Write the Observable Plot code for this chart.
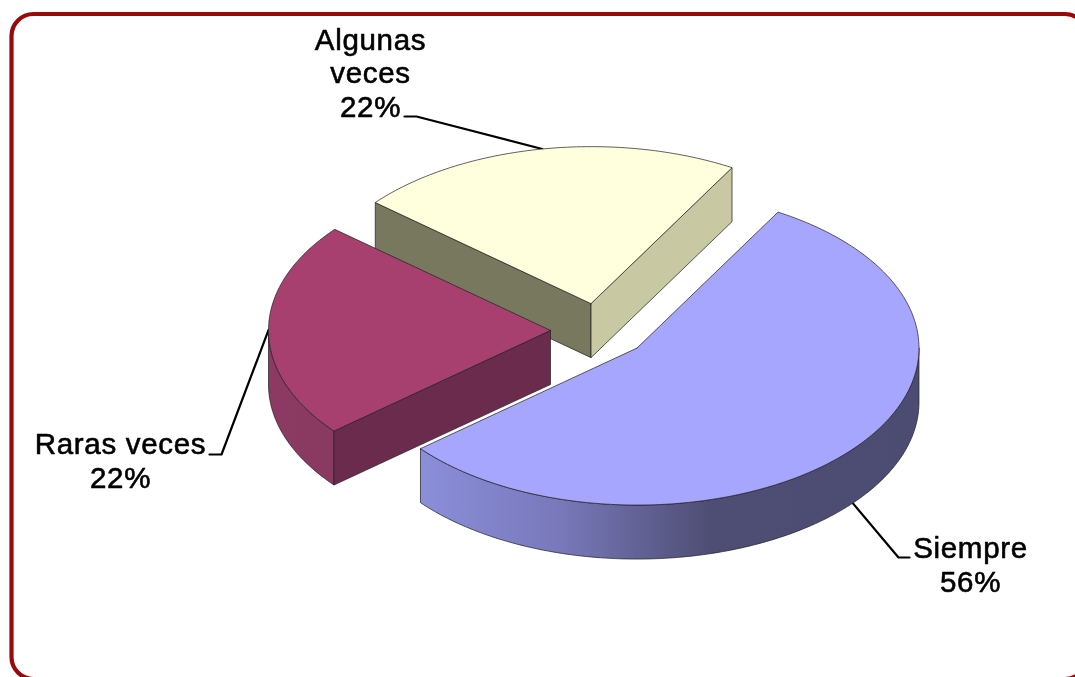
<!DOCTYPE html>
<html><head><meta charset="utf-8">
<style>html,body{margin:0;padding:0;background:#fff}svg{display:block;filter:blur(0.4px)}text{letter-spacing:.7px}</style>
<script src="https://cdn.jsdelivr.net/npm/d3@7"></script>
<script src="https://cdn.jsdelivr.net/npm/@observablehq/plot@0.6"></script>
</head><body><script>
const categories = ["Siempre", "Raras veces", "Algunas veces"];
const shares = [55.6, 22.2, 22.2];
const labels = ["Siempre\n56%", "Raras veces\n22%", "Algunas\nveces\n22%"];

// drawing layout of the tilted pie
const cx = 599, cy = 330, rx = 282, ry = 157, depth = 54, explode = 49, startDeg = -60;
const topColors = ["#a6a6ff", "#a8406f", "#ffffdd"];
const labelX = [970, 120, 370];
const labelY = [564, 460, 72];
const elbows = [[[898,557],[909,557]], [[221,454],[209,454]], [[416,116],[404,116]]];

const rad = d => d * Math.PI / 180;
let acc = startDeg;
const slices = categories.map((name, i) => {
  const a0 = acc, a1 = acc + shares[i] * 3.6; acc = a1;
  const mid = (a0 + a1) / 2;
  const ox = cx + explode * Math.cos(rad(mid));
  const oy = cy + explode * ry / rx * Math.sin(rad(mid));
  const at = (deg, dz = 0) => ({x: ox + rx * Math.cos(rad(deg)), y: oy + ry * Math.sin(rad(deg)) + dz});
  return {name, i, a0, a1, mid, ox, oy, at};
});
function arc(s, a, b, dz = 0) {
  const n = Math.max(2, Math.ceil(Math.abs(b - a)));
  return d3.range(n + 1).map(k => s.at(a + (b - a) * k / n, dz));
}
function poly(id, fill, pts) { return pts.concat(pts[0]).map(p => ({...p, id, fill})); }
const [pS, pR, pA] = slices;
const faces = [
  // Algunas veces: two cut faces, then the top
  poly("a-left", "#78785f", [{x:pA.ox,y:pA.oy}, pA.at(pA.a0), pA.at(pA.a0,depth), {x:pA.ox,y:pA.oy+depth}]),
  poly("a-right", "#c8c8a2", [{x:pA.ox,y:pA.oy}, pA.at(pA.a1), pA.at(pA.a1,depth), {x:pA.ox,y:pA.oy+depth}]),
  poly("a-top", topColors[2], [{x:pA.ox,y:pA.oy}, ...arc(pA,pA.a0,pA.a1)]),
  // Raras veces
  poly("r-side", "url(#sideR)", [...arc(pR,pR.a0,180), ...arc(pR,180,pR.a0,depth)]),
  poly("r-cut", "#6b2b4d", [{x:pR.ox,y:pR.oy}, pR.at(pR.a0), pR.at(pR.a0,depth), {x:pR.ox,y:pR.oy+depth}]),
  poly("r-top", topColors[1], [{x:pR.ox,y:pR.oy}, ...arc(pR,pR.a0,pR.a1)]),
  // Siempre
  poly("s-side", "url(#sideS)", [...arc(pS,0,pS.a1), ...arc(pS,pS.a1,0,depth)]),
  poly("s-top", topColors[0], [{x:pS.ox,y:pS.oy}, ...arc(pS,pS.a0,pS.a1)])
];
const leaders = [
  [pS.at(pS.mid, depth), ...elbows[0].map(([x,y]) => ({x,y}))],
  [pR.at(pR.mid), ...elbows[1].map(([x,y]) => ({x,y}))],
  [pA.at(pA.mid), ...elbows[2].map(([x,y]) => ({x,y}))]
].flatMap((l, i) => l.map(p => ({...p, i})));

function gradients() {
  const ns = "http://www.w3.org/2000/svg";
  const defs = document.createElementNS(ns, "defs");
  const make = (id, x1, x2, stops) => {
    const g = document.createElementNS(ns, "linearGradient");
    g.setAttribute("id", id); g.setAttribute("gradientUnits", "userSpaceOnUse");
    g.setAttribute("x1", x1); g.setAttribute("x2", x2); g.setAttribute("y1", 0); g.setAttribute("y2", 0);
    stops.forEach(([o, c]) => {
      const s = document.createElementNS(ns, "stop");
      s.setAttribute("offset", o); s.setAttribute("stop-color", c); g.appendChild(s);
    });
    defs.appendChild(g);
  };
  make("sideS", 420, 918, [[0,"#8b8ed9"],[0.28,"#7878bb"],[0.46,"#5f5f90"],[0.58,"#4e4e75"],[1,"#4c4c72"]]);
  make("sideR", 269, 334, [[0,"#8c3a63"],[1,"#883a60"]]);
  return defs;
}

const chart = Plot.plot({
  width: 1075, height: 677, margin: 0,
  style: {background: "#fff", overflow: "hidden"},
  x: {domain: [0, 1075], range: [0, 1075], axis: null},
  y: {domain: [0, 677], range: [0, 677], axis: null},
  marks: [
    gradients,
    Plot.rect([{x1: 11.5, x2: 1087, y1: 14, y2: 679}], {x1: "x1", x2: "x2", y1: "y1", y2: "y2", rx: 22, fill: "#fff", stroke: "#960a0a", strokeWidth: 4.2}),
    Plot.line(leaders, {x: "x", y: "y", z: "i", stroke: "#000", strokeWidth: 2.2}),
    ...faces.map(f => Plot.line(f, {x: "x", y: "y", fill: f[0].fill, stroke: "#222", strokeWidth: 0.9, strokeOpacity: 0.8, curve: "linear"})),
    Plot.text(slices, {x: d => labelX[d.i], y: d => labelY[d.i], text: d => labels[d.i],
      fontFamily: "'Liberation Sans', Arial, sans-serif", fontSize: 29.5, lineHeight: 1.135, fill: "#000", stroke: "#000", strokeWidth: 0.6, textAnchor: "middle"})
  ]
});
document.body.appendChild(chart);
</script></body></html>
